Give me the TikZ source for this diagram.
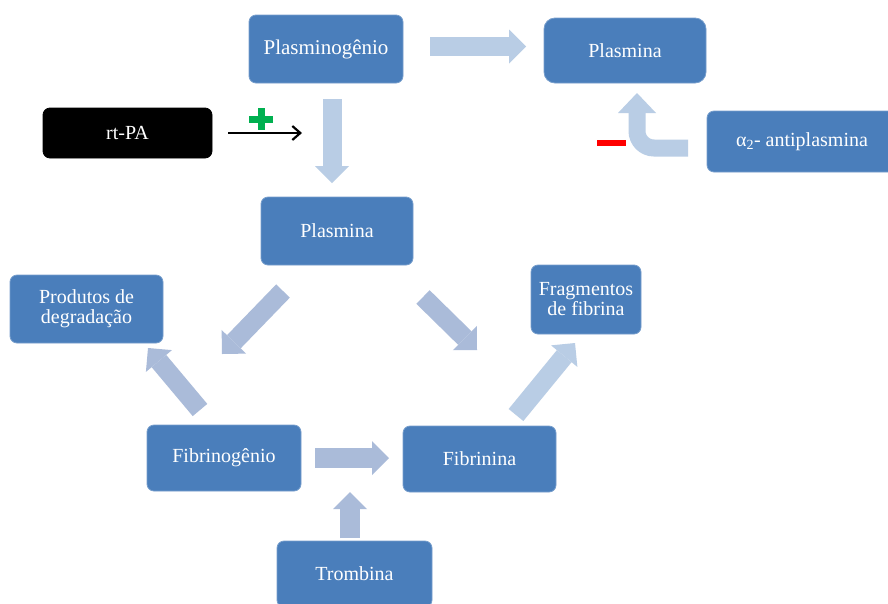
\documentclass[tikz,border=0pt]{standalone}
\usepackage{fontspec}
\setmainfont{Liberation Serif}
\usepackage{tikz}
\usetikzlibrary{arrows.meta}
\definecolor{boxblue}{RGB}{74,126,187}
\definecolor{arrowlight}{RGB}{185,205,229}
\definecolor{arrowgrey}{RGB}{170,187,217}
\definecolor{plusgreen}{RGB}{0,176,80}
\tikzstyle{box}=[rectangle, rounded corners=7pt, fill=boxblue, draw=boxblue!75!white,
    line width=0.8pt, text=white, align=center, inner sep=0pt,
    font=\fontsize{20}{20}\selectfont]
\tikzstyle{block_arrow}=[line width=19pt,
    -{Triangle[length=17pt 0 0, width=34pt 0 0, line width=0pt 0 0]}]
\tikzstyle{light_arrow}=[block_arrow, draw=arrowlight]
\tikzstyle{grey_arrow}=[block_arrow, draw=arrowgrey]

\begin{document}
\begin{tikzpicture}[x=1pt,y=-1pt]
          \clip (0,0) rectangle (888,603);
          \fill[white] (0,0) rectangle (888,603);
          % boxes
          \node[box, minimum width=154pt, minimum height=68pt, font=\fontsize{21}{21}\selectfont] (plasminogenio) at (326,49){Plasminogênio};
          \node[box, minimum width=162pt, minimum height=65pt, rounded corners=11pt] (plasmina_top) at (625,50.5){Plasmina};
          \node[box, minimum width=169pt, minimum height=50pt, fill=black, draw=black] (rtpa) at (127.5,133){rt-PA};
          \node[box, minimum width=190pt, minimum height=61pt] (antiplasmina) at (802,141.5){α\textsubscript{2}- antiplasmina};
          \node[box, minimum width=152pt, minimum height=68pt] (plasmina) at (337,231){Plasmina};
          \node[box, minimum width=153pt, minimum height=68pt] (produtos) at (86.5,309){Produtos de\\degradação};
          \node[box, minimum width=110pt, minimum height=69pt] (fragmentos) at (586,299.5){Fragmentos\\de fibrina};
          \node[box, minimum width=154pt, minimum height=66pt] (fibrinogenio) at (224,458){Fibrinogênio};
          \node[box, minimum width=153pt, minimum height=66pt] (fibrinina) at (479.5,459){Fibrinina};
          \node[box, minimum width=155pt, minimum height=66pt] (trombina) at (354.5,574){Trombina};
          % arrow ends
          \coordinate (a1) at (430,46.5);   \coordinate (b1) at (526,46.5);
          \coordinate (a2) at (332,99);     \coordinate (b2) at (332,183);
          \coordinate (a3) at (228,133);    \coordinate (b3) at (302,133);
          \coordinate (a4) at (688,148);    \coordinate (b4) at (637,93);
          \coordinate (a5) at (283,291);    \coordinate (b5) at (222,354);
          \coordinate (a6) at (423,297);    \coordinate (b6) at (477,350);
          \coordinate (a7) at (200,410);    \coordinate (b7) at (148,348);
          \coordinate (a8) at (516,415);    \coordinate (b8) at (575,343);
          \coordinate (a9) at (315,458);    \coordinate (b9) at (389,458);
          \coordinate (a10) at (350,538);   \coordinate (b10) at (350,492);
          \draw[light_arrow](a1) -- (b1);
          \draw[light_arrow](a2) -- (b2);
          \draw[line width=2.2pt, -{Straight Barb[length=8pt, width=14pt]}](a3) -- (b3);
          \draw[light_arrow, line width=17pt, rounded corners=17pt,
                -{Triangle[length=20pt 0 0, width=38pt 0 0, line width=0pt 0 0]}](a4) -| (b4);
          \draw[grey_arrow](a5) -- (b5);
          \draw[grey_arrow](a6) -- (b6);
          \draw[grey_arrow](a7) -- (b7);
          \draw[light_arrow](a8) -- (b8);
          \draw[grey_arrow, line width=20pt](a9) -- (b9);
          \draw[grey_arrow, line width=20pt](a10) -- (b10);
          % signs
          \fill[plusgreen] (249,115.5) rectangle (273,122.5);
          \fill[plusgreen] (257.5,108) rectangle (264.5,130);
          \fill[red] (597,140) rectangle (626,146);
        \end{tikzpicture}
\end{document}
